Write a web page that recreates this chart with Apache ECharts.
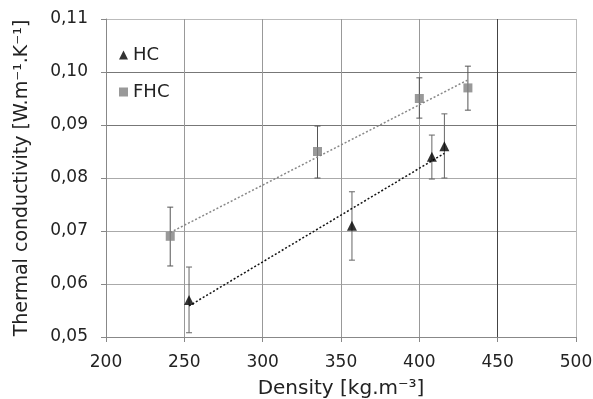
<!DOCTYPE html>
<html><head><meta charset="utf-8">
<script src="https://cdn.jsdelivr.net/npm/echarts@6/dist/echarts.min.js"></script>
<style>html,body{margin:0;padding:0;background:#fff}#c{width:593px;height:399px}</style>
</head><body><div id="c"></div>
<script>
// Data
const hcDensity = [253, 357, 408, 416];
const hcConductivity = [0.057, 0.071, 0.084, 0.086];
const hcErrLow = [0.0508, 0.0645, 0.0798, 0.0800];
const hcErrHigh = [0.0632, 0.0774, 0.0881, 0.0921];

const fhcDensity = [241, 335, 400, 431];
const fhcConductivity = [0.069, 0.085, 0.095, 0.097];
const fhcErrLow = [0.0634, 0.0800, 0.0913, 0.0928];
const fhcErrHigh = [0.0745, 0.0898, 0.0989, 0.1011];

const xTicks = [200, 250, 300, 350, 400, 450, 500];
const yTicks = [0.05, 0.06, 0.07, 0.08, 0.09, 0.10, 0.11];

function fit(xs, ys) {
  const n = xs.length;
  const mx = xs.reduce((a, b) => a + b, 0) / n;
  const my = ys.reduce((a, b) => a + b, 0) / n;
  let sxy = 0, sxx = 0;
  for (let i = 0; i < n; i++) { sxy += (xs[i] - mx) * (ys[i] - my); sxx += (xs[i] - mx) ** 2; }
  const b = sxy / sxx, a = my - b * mx;
  const x0 = Math.min(...xs), x1 = Math.max(...xs);
  return [[x0, a + b * x0], [x1, a + b * x1]];
}

function errData(xs, lo, hi) { return xs.map((x, i) => [x, lo[i], hi[i]]); }

function errSeries(data, color) {
  return {
    type: 'custom', silent: true, z: 3,
    renderItem: function (params, api) {
      const x = api.value(0);
      const p1 = api.coord([x, api.value(1)]);
      const p2 = api.coord([x, api.value(2)]);
      const w = 3;
      const st = { stroke: color, lineWidth: 1 };
      return { type: 'group', children: [
        { type: 'line', shape: { x1: p1[0], y1: p1[1], x2: p2[0], y2: p2[1] }, style: st },
        { type: 'line', shape: { x1: p1[0] - w, y1: p1[1], x2: p1[0] + w, y2: p1[1] }, style: st },
        { type: 'line', shape: { x1: p2[0] - w, y1: p2[1], x2: p2[0] + w, y2: p2[1] }, style: st }
      ]};
    },
    data: data
  };
}

const chart = echarts.init(document.getElementById('c'), null, { renderer: 'canvas' });
const font = 'DejaVu Sans, sans-serif';
chart.setOption({
  animation: false,
  backgroundColor: '#fff',
  textStyle: { fontFamily: font },
  grid: { left: 106, right: 17, top: 19, bottom: 62, containLabel: false, outerBoundsMode: 'none' },
  legend: {
    left: 119, top: 46, orient: 'vertical', itemGap: 19, padding: 0,
    itemWidth: 9, itemHeight: 9,
    textStyle: { fontSize: 18, color: '#222', fontFamily: font },
    data: [{ name: 'HC', icon: 'triangle' }, { name: 'FHC', icon: 'rect' }]
  },
  xAxis: {
    type: 'value', min: 200, max: 500, interval: 50,
    name: 'Density [kg.m\u207B\u00B3]', nameLocation: 'middle', nameGap: 42,
    nameTextStyle: { fontSize: 20, color: '#222', fontFamily: font },
    axisLine: { show: true, lineStyle: { color: '#888', width: 1 } },
    axisTick: { show: true, length: 5, lineStyle: { color: '#888' } },
    axisLabel: { fontSize: 17, color: '#222', margin: 17, fontFamily: font },
    splitLine: { show: true, lineStyle: { color: ['#999', '#999', '#999', '#999', '#999', '#444', '#bbb'], width: 1 } }
  },
  yAxis: {
    type: 'value', min: 0.05, max: 0.11, interval: 0.01,
    name: 'Thermal conductivity [W.m\u207B\u00B9.K\u207B\u00B9]', nameLocation: 'middle', nameGap: 74,
    nameTextStyle: { fontSize: 19, color: '#222', fontFamily: font },
    axisLine: { show: true, lineStyle: { color: '#888', width: 1 } },
    axisTick: { show: true, length: 5, lineStyle: { color: '#888' } },
    axisLabel: { fontSize: 17, color: '#222', margin: 18, fontFamily: font,
      formatter: v => v.toFixed(2).replace('.', ',') },
    splitLine: { show: true, lineStyle: { color: ['#999', '#aaa', '#aaa', '#aaa', '#777', '#777', '#bbb'], width: 1 } }
  },
  series: [
    { name: 'HC', type: 'scatter', symbol: 'triangle', symbolSize: 10, z: 5,
      itemStyle: { color: '#000' },
      data: hcDensity.map((x, i) => [x, hcConductivity[i]]) },
    { name: 'FHC', type: 'scatter', symbol: 'rect', symbolSize: 9, z: 5,
      itemStyle: { color: '#808080' },
      data: fhcDensity.map((x, i) => [x, fhcConductivity[i]]) },
    { type: 'line', symbol: 'none', silent: true, z: 4,
      lineStyle: { color: '#111', width: 1.5, type: [2, 2] },
      data: fit(hcDensity, hcConductivity) },
    { type: 'line', symbol: 'none', silent: true, z: 4,
      lineStyle: { color: '#888', width: 1.5, type: [2, 2] },
      data: fit(fhcDensity, fhcConductivity) },
    errSeries(errData(hcDensity, hcErrLow, hcErrHigh), '#666'),
    errSeries(errData(fhcDensity, fhcErrLow, fhcErrHigh), '#555')
  ]
});
</script></body></html>
